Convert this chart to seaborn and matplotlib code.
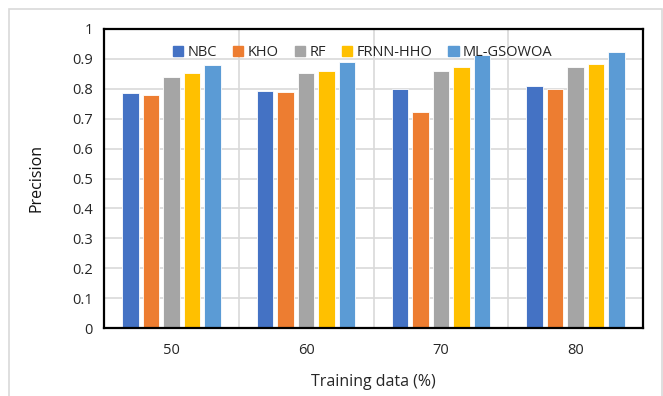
import matplotlib
matplotlib.use("Agg")
import matplotlib.pyplot as plt
import matplotlib.patches as mpatches
import pandas as pd
import seaborn as sns

# chart values
training = ["50", "60", "70", "80"]
methods = ["NBC", "KHO", "RF", "FRNN-HHO", "ML-GSOWOA"]
nbc = [0.785, 0.792, 0.800, 0.810]
kho = [0.780, 0.789, 0.722, 0.798]
rf = [0.838, 0.853, 0.858, 0.873]
frnn_hho = [0.852, 0.861, 0.873, 0.882]
ml_gsowoa = [0.879, 0.888, 0.912, 0.922]
yticks = [0, 0.1, 0.2, 0.3, 0.4, 0.5, 0.6, 0.7, 0.8, 0.9, 1]
ytick_labels = ["0", "0.1", "0.2", "0.3", "0.4", "0.5", "0.6", "0.7", "0.8", "0.9", "1"]

colors = ["#4472C4", "#ED7D31", "#A5A5A5", "#FFC000", "#5B9BD5"]

df = pd.DataFrame({"NBC": nbc, "KHO": kho, "RF": rf,
                   "FRNN-HHO": frnn_hho, "ML-GSOWOA": ml_gsowoa})
df["Training"] = training
long = df.melt(id_vars="Training", var_name="Method", value_name="Precision")

sns.set_style("white")
plt.rcParams["font.family"] = ["Open Sans", "DejaVu Sans"]

fig = plt.figure(figsize=(6.63, 3.96), dpi=100)
ax = fig.add_axes([104 / 663, 1 - 328 / 396, 539 / 663, 299 / 396])

# outer light frame like the Excel chart area
fig.patches.append(mpatches.Rectangle((9 / 663, -0.05), 653 / 663, 1 - 9 / 396 + 0.05,
                                      transform=fig.transFigure, fill=False,
                                      edgecolor="#D9D9D9", linewidth=1.2))

sns.barplot(data=long, x="Training", y="Precision", hue="Method",
            hue_order=methods, palette=colors, saturation=1, width=0.76, gap=0.2,
            edgecolor="white", linewidth=0.6, ax=ax, legend=False)

ax.set_ylim(0, 1)
ax.set_xlim(-0.5, 3.5)
ax.set_yticks(yticks)
ax.set_yticklabels(ytick_labels)
ax.set_xticks([0.5, 1.5, 2.5], minor=True)
ax.grid(axis="y", which="major", color="#D9D9D9", linewidth=1.2)
ax.grid(axis="x", which="minor", color="#D9D9D9", linewidth=1.2)
ax.grid(axis="x", which="major", visible=False)
ax.set_axisbelow(True)
ax.tick_params(axis="both", which="both", length=0, labelsize=10.5, colors="#262626", pad=8)
ax.tick_params(axis="x", pad=11)
for s in ax.spines.values():
    s.set_color("black")
    s.set_linewidth(1.6)
    s.set_zorder(5)

ax.set_xlabel("Training data (%)", fontsize=11.5, color="#262626", labelpad=11)
ax.set_ylabel("Precision", fontsize=11.5, color="#111111", labelpad=20)

handles = [mpatches.Patch(color=c, label=m) for c, m in zip(colors, methods)]
ax.legend(handles=handles, loc="upper center", bbox_to_anchor=(0.48, 0.99), ncol=5,
          frameon=False, fontsize=10.5, handlelength=0.7, handleheight=0.7,
          handletextpad=0.3, columnspacing=1.1)

fig.savefig("out.png", dpi=100)
